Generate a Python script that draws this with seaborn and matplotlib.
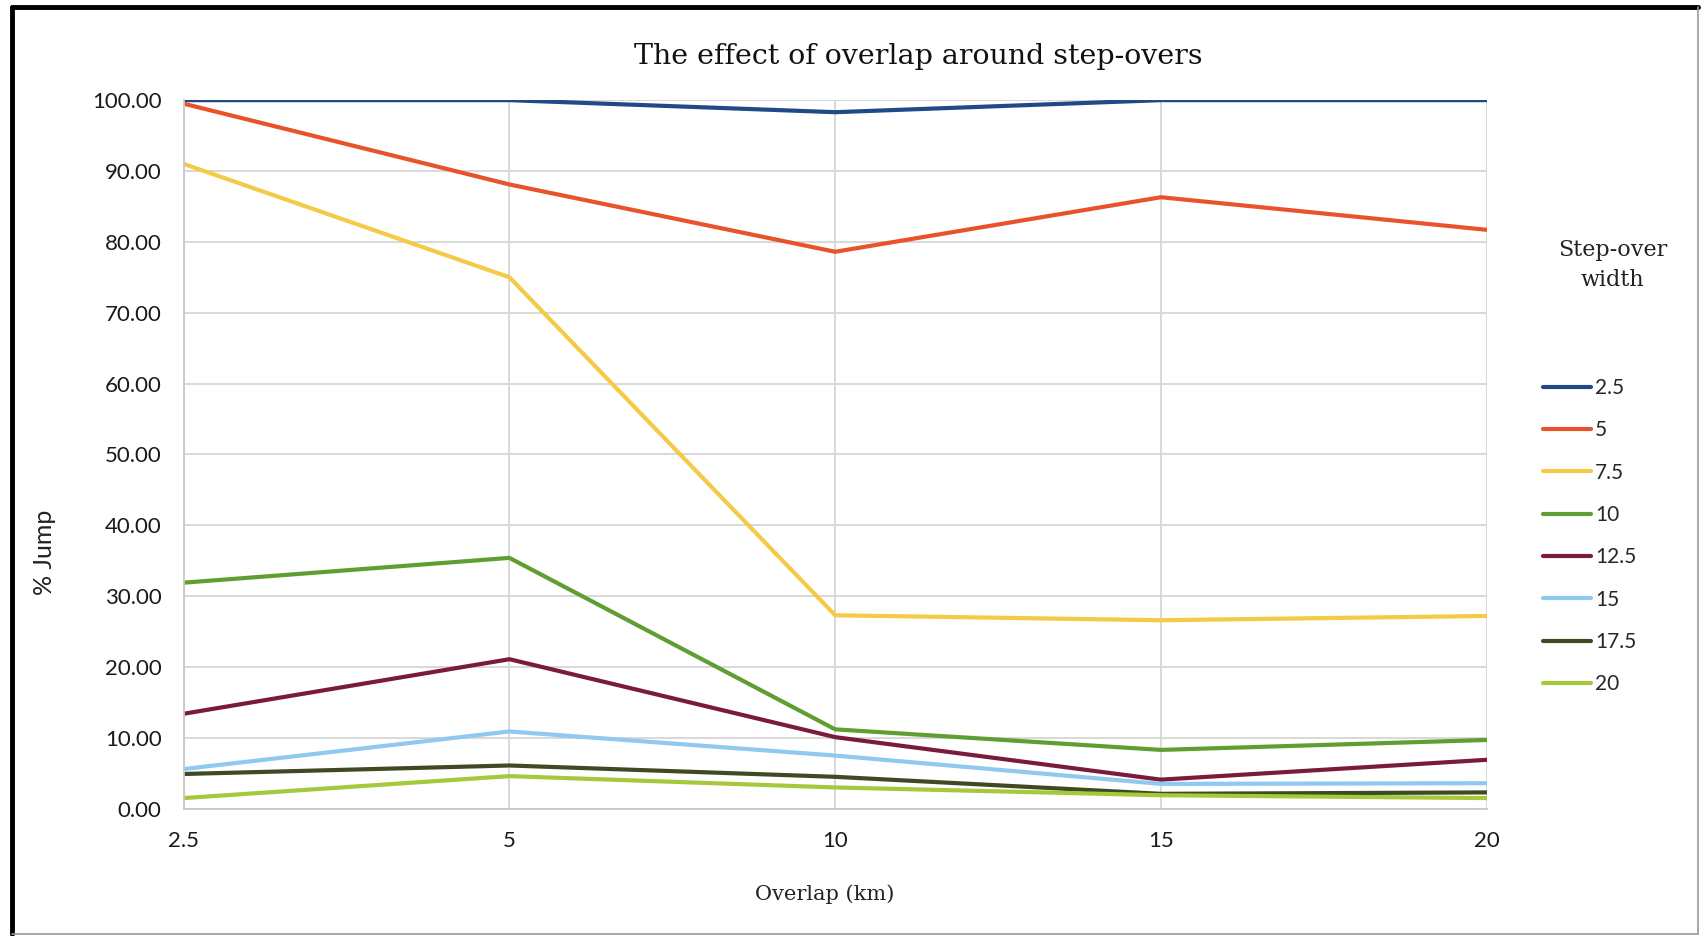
import pandas as pd
import numpy as np
import matplotlib.pyplot as plt
import seaborn as sns
from matplotlib.lines import Line2D

# overlap categories (x axis) and step-over widths (legend)
overlap = ['2.5', '5', '10', '15', '20']
widths  = ['2.5', '5', '7.5', '10', '12.5', '15', '17.5', '20']

# % jump per step-over width
w_2_5  = [100.0, 100.0, 98.3, 100.0, 100.0]
w_5    = [99.5, 88.1, 78.6, 86.3, 81.7]
w_7_5  = [91.0, 75.0, 27.3, 26.6, 27.2]
w_10   = [31.9, 35.4, 11.2, 8.3, 9.7]
w_12_5 = [13.4, 21.1, 10.1, 4.1, 6.9]
w_15   = [5.6, 10.9, 7.5, 3.5, 3.6]
w_17_5 = [4.9, 6.1, 4.5, 2.1, 2.3]
w_20   = [1.5, 4.6, 3.0, 1.9, 1.5]

series = [w_2_5, w_5, w_7_5, w_10, w_12_5, w_15, w_17_5, w_20]
colors = ['#1F4A86', '#E9532B', '#F4CA46', '#5E9E33',
          '#7A1B3B', '#8FC9EF', '#3F4A22', '#A6C93C']

df = pd.DataFrame([
    {'overlap': o, 'width': w, 'jump': v}
    for w, vals in zip(widths, series)
    for o, v in zip(overlap, vals)
])

sns.set_style('white')
fig = plt.figure(figsize=(17.01, 9.36), dpi=100)
ax = fig.add_axes([0.108, 0.136, 0.766, 0.757])

sns.lineplot(data=df, x='overlap', y='jump', hue='width', hue_order=widths,
             palette=dict(zip(widths, colors)), lw=3, ax=ax, legend=False,
             sort=False)

ax.set_xlim(0, 4)
ax.set_ylim(0, 100)
ax.set_yticks(np.arange(0, 101, 10))
ax.set_yticklabels([f'{v:.2f}' for v in np.arange(0, 101, 10)])
ax.grid(True, color='#D6D6D6', lw=1.3)
ax.set_axisbelow(True)
for s in ['top', 'right']:
    ax.spines[s].set_visible(False)
for s in ['left', 'bottom']:
    ax.spines[s].set_color('#C8C8C8')
    ax.spines[s].set_linewidth(1.3)
ax.tick_params(axis='both', length=0, labelsize=16, colors='#1a1a1a')
ax.tick_params(axis='y', pad=16)
ax.tick_params(axis='x', pad=16)
for t in ax.get_xticklabels() + ax.get_yticklabels():
    t.set_family('Lato')
ax.set_xlabel('')
ax.set_ylabel('')

fig.text(0.54, 0.94, 'The effect of overlap around step-overs',
         ha='center', va='center', fontsize=20.5, family='DejaVu Serif', color='#111111')
fig.text(0.485, 0.045, 'Overlap (km)', ha='center', va='center',
         fontsize=15, family='DejaVu Serif', color='#222222')
fig.text(0.026, 0.41, '% Jump', ha='center', va='center', rotation=90,
         fontsize=18, family='Lato', color='#222222')
fig.text(0.948, 0.717, 'Step-over\nwidth', ha='center', va='center',
         fontsize=16, family='DejaVu Serif', color='#222222', linespacing=1.45)

handles = [Line2D([], [], color=c, lw=3) for c in colors]
leg = fig.legend(handles, widths, loc='upper left', bbox_to_anchor=(0.896, 0.616),
                 frameon=False, handlelength=2.3, handletextpad=0.2,
                 labelspacing=1.07, prop={'family': 'Lato', 'size': 15})

# outer frame of the pasted chart
fig.add_artist(Line2D([0.007, 0.007], [0.002, 0.992], color='black', lw=3.5,
                      transform=fig.transFigure))
fig.add_artist(Line2D([0.007, 0.998], [0.992, 0.992], color='black', lw=3.5,
                      transform=fig.transFigure))
fig.add_artist(Line2D([0.998, 0.998], [0.002, 0.992], color='#9A9A9A', lw=1.2,
                      transform=fig.transFigure))
fig.add_artist(Line2D([0.007, 0.998], [0.002, 0.002], color='#9A9A9A', lw=1.2,
                      transform=fig.transFigure))

plt.savefig('out.png', dpi=100)
plt.close()
